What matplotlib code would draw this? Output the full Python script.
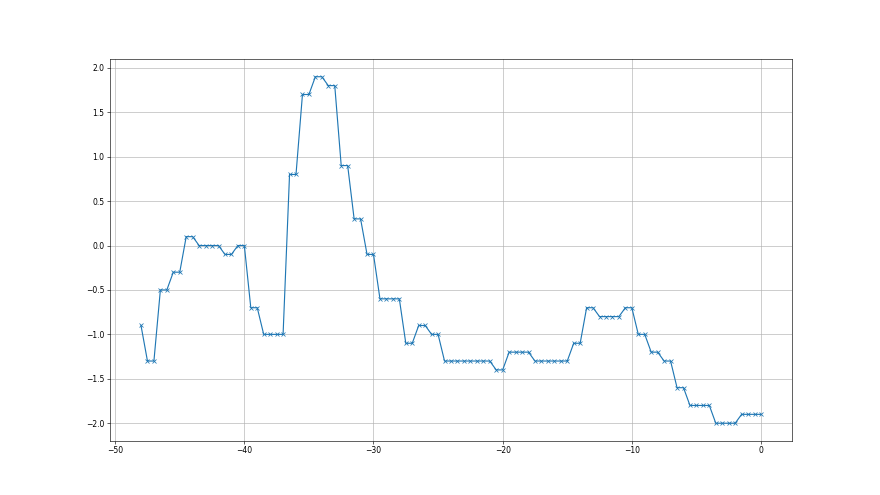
import matplotlib
matplotlib.use("Agg")
import matplotlib.pyplot as plt
import numpy as np

# x positions: every half step from -48 up to 0
x = np.arange(-48, 0.01, 0.5)

# values, grouped by plateau
y = ([-0.9] + [-1.3] * 2 + [-0.5] * 2 + [-0.3] * 2 + [0.1] * 2
     + [0.0] * 4 + [-0.1] * 2 + [0.0] * 2 + [-0.7] * 2 + [-1.0] * 4
     + [0.8] * 2 + [1.7] * 2 + [1.9] * 2 + [1.8] * 2 + [0.9] * 2
     + [0.3] * 2 + [-0.1] * 2 + [-0.6] * 4 + [-1.1] * 2 + [-0.9] * 2
     + [-1.0] * 2 + [-1.3] * 8 + [-1.4] * 2 + [-1.2] * 4 + [-1.3] * 6
     + [-1.1] * 2 + [-0.7] * 2 + [-0.8] * 4 + [-0.7] * 2 + [-1.0] * 2
     + [-1.2] * 2 + [-1.3] * 2 + [-1.6] * 2 + [-1.8] * 4 + [-2.0] * 4
     + [-1.9] * 4)

fig, ax = plt.subplots(figsize=(16, 9), dpi=55)
ax.plot(x, y, marker='x')
ax.grid(True)

fig.savefig('out.png', dpi=55)
